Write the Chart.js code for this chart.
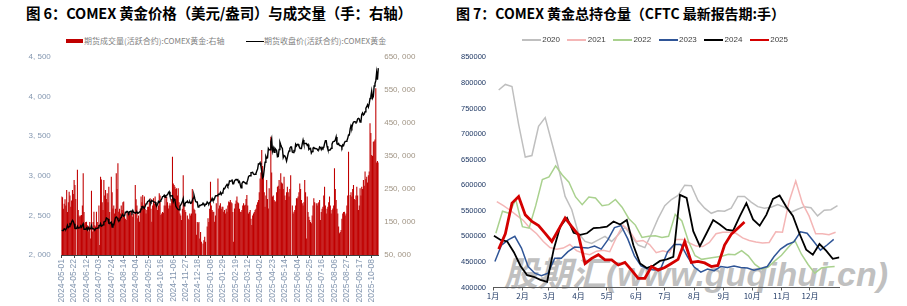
<!DOCTYPE html>
<html>
<head>
<meta charset="utf-8">
<script src="https://cdn.jsdelivr.net/npm/chart.js@4.4.1/dist/chart.umd.min.js"></script>
<style>
html, body { margin: 0; padding: 0; background: #fff; }
#wrap { position: relative; width: 907px; height: 306px; overflow: hidden; font-family: "Liberation Sans", Arial, sans-serif; }
.title { position: absolute; top: 3px; font-family: "Noto Sans CJK SC", sans-serif; font-weight: 700; line-height: 20px; color: #000; white-space: nowrap; }
canvas { position: absolute; top: 0; }
.lg { position: absolute; white-space: nowrap; }
.lgtxt { position: absolute; font-family: "Noto Sans CJK SC", sans-serif; font-size: 8px; line-height: 10px; color: #7f7f7f; white-space: nowrap; }
.rtxt { position: absolute; font-family: "Liberation Sans", Arial, sans-serif; font-size: 8px; line-height: 10px; color: #404040; }
#watermark { position: absolute; left: 504px; top: 256px; font-family: "Liberation Sans", "Noto Sans CJK SC", sans-serif; font-weight: 700; font-style: italic; font-size: 34px; line-height: 36px; color: #c0c0c0; white-space: nowrap; }
</style>
</head>
<body>
<div id="wrap">
  <div class="title" id="title-left" style="left:26px;font-size:14.5px">图 6：COMEX 黄金价格（美元/盎司）与成交量（手：右轴）</div>
  <div class="title" id="title-right" style="left:456px;font-size:14px">图 7：COMEX 黄金总持仓量（CFTC 最新报告期:手）</div>

  <div class="lg" style="left:66px;top:39px;width:17px;height:4px;background:#c00000"></div>
  <div class="lgtxt" style="left:84px;top:36px">期货成交量(活跃合约):COMEX黄金:右轴</div>
  <div class="lg" style="left:246px;top:40.5px;width:17.5px;height:1.5px;background:#000"></div>
  <div class="lgtxt" style="left:264px;top:36px">期货收盘价(活跃合约):COMEX黄金</div>

  <div id="watermark">股期汇(www.guqihui.cn)</div>

  <canvas id="left-chart" width="450" height="306" style="left:0"></canvas>
  <canvas id="right-chart" width="457" height="306" style="left:450px"></canvas>
  <div id="legend-right"></div>
</div>

<script>
// ---- 图6 data: COMEX gold daily close and volume, one row per 15 trading days ----
const firstTradeDay = '2024-05-01';

const closePrice = [
  2311, 2309, 2308, 2331, 2324, 2322, 2340, 2375, 2347, 2358, 2393, 2385, 2417, 2438, 2425,
  2393, 2337, 2335, 2335, 2362, 2340, 2343, 2345, 2368, 2350, 2375, 2394, 2325, 2327, 2325,
  2341, 2318, 2349, 2330, 2330, 2330, 2369, 2331, 2331, 2330, 2313, 2336, 2336, 2338, 2342,
  2369, 2369, 2397, 2363, 2369, 2380, 2416, 2421, 2429, 2467, 2459, 2455, 2400, 2396, 2409,
  2415, 2353, 2386, 2381, 2426, 2473, 2481, 2469, 2444, 2431, 2431, 2467, 2472, 2505, 2507,
  2491, 2494, 2540, 2540, 2552, 2548, 2515, 2546, 2552, 2555, 2536, 2562, 2536, 2536, 2526,
  2536, 2542, 2525, 2531, 2544, 2543, 2580, 2610, 2612, 2599, 2588, 2614, 2646, 2652, 2675,
  2681, 2694, 2668, 2660, 2690, 2680, 2677, 2667, 2666, 2636, 2623, 2641, 2676, 2665, 2680,
  2692, 2707, 2737, 2741, 2756, 2729, 2749, 2755, 2760, 2786, 2800, 2749, 2749, 2746, 2750,
  2676, 2706, 2694, 2618, 2598, 2586, 2573, 2570, 2615, 2632, 2652, 2674, 2712, 2620, 2641,
  2664, 2664, 2681, 2661, 2663, 2674, 2653, 2658, 2689, 2718, 2756, 2713, 2675, 2669, 2669,
  2605, 2610, 2628, 2625, 2635, 2635, 2654, 2637, 2620, 2641, 2641, 2669, 2655, 2645, 2664,
  2672, 2690, 2715, 2689, 2692, 2717, 2746, 2748, 2748, 2759, 2770, 2765, 2791, 2763, 2783,
  2790, 2840, 2835, 2857, 2877, 2892, 2869, 2887, 2935, 2932, 2936, 2954, 2900, 2900, 2935,
  2947, 2955, 2949, 2953, 2918, 2929, 2887, 2848, 2900, 2922, 2926, 2916, 2910, 2899, 2917,
  2945, 2990, 3001, 3000, 3041, 3042, 3045, 3022, 3016, 3020, 3030, 3060, 3084, 3150, 3148,
  3166, 3122, 3056, 2973, 2990, 3081, 3172, 3245, 3221, 3228, 3346, 3328, 3328, 3430, 3470,
  3310, 3349, 3298, 3347, 3333, 3319, 3240, 3243, 3333, 3422, 3391, 3364, 3344, 3230, 3256,
  3249, 3226, 3187, 3233, 3283, 3314, 3345, 3365, 3365, 3300, 3295, 3318, 3315, 3397, 3377,
  3397, 3399, 3375, 3355, 3343, 3344, 3402, 3452, 3404, 3407, 3408, 3408, 3385, 3395, 3333,
  3342, 3348, 3287, 3307, 3350, 3358, 3345, 3345, 3342, 3338, 3324, 3327, 3365, 3359, 3332,
  3359, 3345, 3359, 3406, 3444, 3444, 3373, 3335, 3319, 3326, 3327, 3348, 3399, 3426, 3434,
  3435, 3453, 3491, 3404, 3398, 3408, 3382, 3382, 3379, 3357, 3391, 3380, 3418, 3433, 3435,
  3441, 3473, 3516, 3516, 3591, 3634, 3608, 3653, 3678, 3682, 3682, 3673, 3680, 3718, 3725,
  3717, 3678, 3683, 3775, 3795, 3768, 3780, 3809, 3855, 3873, 3897, 3868, 3908, 3976, 4005,
  4070, 3978, 4000, 4133, 4163, 4201, 4304, 4213, 4359
];

const volume = [
  227000, 225000, 190000, 205000, 219000, 200000, 247000, 180000, 210000, 242000, 230000, 196000, 215000, 247000, 235000,
  277000, 262000, 220000, 30000, 308000, 186000, 170000, 166000, 170000, 171000, 200000, 298000, 180000, 146000, 150000,
  151000, 140000, 121000, 136000, 150000, 100000, 245000, 121000, 150000, 181000, 140000, 136000, 181000, 150000, 136000,
  200000, 80000, 287000, 279000, 210000, 186000, 277000, 230000, 247000, 220000, 237000, 210000, 257000, 180000, 146000,
  287000, 240000, 191000, 200000, 176000, 190000, 298000, 250000, 328000, 181000, 190000, 176000, 200000, 186000, 210000,
  212000, 166000, 160000, 156000, 180000, 176000, 170000, 176000, 180000, 170000, 176000, 166000, 176000, 30000, 262000,
  219000, 200000, 161000, 170000, 151000, 190000, 227000, 210000, 232000, 200000, 227000, 190000, 176000, 186000, 196000,
  196000, 210000, 222000, 190000, 151000, 200000, 222000, 205000, 227000, 210000, 202000, 186000, 200000, 237000, 230000,
  171000, 176000, 180000, 178000, 200000, 232000, 200000, 227000, 210000, 191000, 200000, 207000, 200000, 220000, 348000,
  267000, 262000, 257000, 250000, 252000, 230000, 252000, 210000, 176000, 170000, 156000, 190000, 292000, 200000, 186000,
  180000, 40000, 170000, 160000, 156000, 176000, 170000, 176000, 250000, 227000, 190000, 186000, 176000, 111000, 150000,
  146000, 150000, 100000, 120000, 90000, 30000, 85000, 95000, 105000, 90000, 30000, 136000, 161000, 150000, 190000,
  272000, 200000, 186000, 180000, 181000, 151000, 170000, 207000, 30000, 282000, 191000, 200000, 207000, 190000, 196000,
  196000, 181000, 186000, 176000, 190000, 181000, 200000, 212000, 210000, 217000, 210000, 207000, 180000, 90000, 191000,
  205000, 215000, 227000, 210000, 207000, 190000, 181000, 180000, 186000, 200000, 207000, 200000, 202000, 220000, 232000,
  200000, 176000, 180000, 186000, 160000, 141000, 170000, 176000, 180000, 186000, 190000, 202000, 210000, 217000, 240000,
  282000, 300000, 368000, 320000, 287000, 240000, 196000, 230000, 277000, 220000, 191000, 252000, 30000, 408000, 300000,
  227000, 230000, 217000, 212000, 212000, 240000, 257000, 260000, 277000, 250000, 298000, 270000, 267000, 250000, 287000,
  230000, 217000, 240000, 257000, 240000, 227000, 250000, 292000, 30000, 200000, 176000, 181000, 186000, 200000, 222000,
  222000, 227000, 240000, 267000, 250000, 217000, 207000, 200000, 210000, 277000, 240000, 100000, 227000, 180000, 166000,
  156000, 150000, 146000, 170000, 200000, 222000, 210000, 30000, 207000, 200000, 207000, 210000, 217000, 156000, 180000,
  190000, 196000, 230000, 257000, 200000, 176000, 190000, 196000, 210000, 227000, 200000, 176000, 186000, 191000, 200000,
  313000, 250000, 217000, 190000, 176000, 136000, 116000, 120000, 126000, 160000, 176000, 180000, 181000, 170000, 176000,
  200000, 230000, 363000, 30000, 232000, 240000, 227000, 250000, 262000, 220000, 217000, 230000, 257000, 230000, 186000,
  200000, 252000, 230000, 257000, 250000, 277000, 260000, 303000, 280000, 287000, 270000, 292000, 303000, 449000, 420000,
  353000, 350000, 393000, 395000, 400000, 555000, 330000, 335000, 330000
];

// ---- 图7 data: CFTC total open interest, weekly reports ----
const years = ['2020', '2021', '2022', '2023', '2024', '2025'];
// day of year (0 = Jan 1) of the first weekly report of each year
const firstReportDay = [6, 4, 3, 2, 1, 6];

const oi2020 = [786000, 797000, 793000, 719000, 655000, 658000, 715000, 732000, 683000, 634000, 578000, 552000, 506000,
  490000, 486000, 493000, 500000, 490000, 503000, 518000, 500000, 483000, 478000, 505000, 535000, 560000, 572000,
  580000, 600000, 599000, 570000, 555000, 545000, 550000, 549000, 555000, 578000, 578000, 567000, 558000, 555000,
  557000, 562000, 557000, 547000, 553000, 558000, 556000, 540000, 551000, 552000, 560000];
const oi2021 = [568000, 560000, 551000, 541000, 531000, 516000, 505000, 490000, 478000, 475000, 477000, 484000, 472000,
  467000, 464000, 471000, 473000, 470000, 498000, 522000, 510000, 490000, 492000, 484000, 468000, 472000, 468000,
  494000, 494000, 487000, 481000, 480000, 488000, 505000, 508000, 508000, 506000, 497000, 492000, 489000, 487000,
  488000, 509000, 508000, 568000, 608000, 565000, 540000, 505000, 505000, 503000, 508000];
const oi2022 = [506000, 549000, 545000, 572000, 519000, 516000, 560000, 611000, 616000, 638000, 620000, 606000, 577000,
  562000, 577000, 575000, 560000, 562000, 572000, 557000, 535000, 522000, 498000, 500000, 501000, 498000, 500000,
  543000, 530000, 490000, 462000, 455000, 457000, 459000, 461000, 465000, 464000, 472000, 462000, 445000, 436000,
  440000, 452000, 463000, 478000, 492000, 465000, 445000, 428000, 438000, 440000, 441000];
const oi2023 = [451000, 483000, 493000, 500000, 477000, 441000, 428000, 423000, 428000, 457000, 457000, 470000, 479000,
  478000, 477000, 481000, 475000, 493000, 517000, 521000, 495000, 462000, 442000, 436000, 434000, 438000, 470000,
  484000, 484000, 460000, 440000, 430000, 436000, 433000, 441000, 439000, 442000, 439000, 438000, 434000, 437000,
  441000, 460000, 475000, 484000, 489000, 509000, 506000, 490000, 473000, 483000, 494000];
const oi2024 = [501000, 493000, 490000, 469000, 442000, 424000, 421000, 415000, 411000, 475000, 520000, 536000, 507000,
  503000, 506000, 516000, 517000, 519000, 529000, 523000, 532000, 482000, 447000, 438000, 443000, 452000, 455000,
  460000, 581000, 575000, 510000, 481000, 506000, 532000, 523000, 513000, 511000, 539000, 565000, 533000, 521000,
  542000, 573000, 580000, 558000, 540000, 505000, 474000, 464000, 485000, 472000, 456000, 459000];
const oi2025 = [475000, 505000, 565000, 578000, 542000, 529000, 521000, 506000, 490000, 513000, 536000, 519000, 503000,
  447000, 457000, 464000, 454000, 454000, 444000, 449000, 434000, 418000, 418000, 441000, 434000, 439000, 447000,
  455000, 490000, 449000, 451000, 448000, 441000, 443000, 483000, 504000, 516000, 528000];
const openInterest = [oi2020, oi2021, oi2022, oi2023, oi2024, oi2025];

const monthStartDay = [0, 31, 59, 90, 120, 151, 181, 212, 243, 273, 304, 334];
const monthLabels = ['1月', '2月', '3月', '4月', '5月', '6月', '7月', '8月', '9月', '10月', '11月', '12月'];

// styles
const yearColors = ['#bfbfbf', '#f4b6b6', '#a9d18e', '#2f5597', '#000000', '#d40000'];
const yearWidths = [1.5, 1.5, 1.5, 1.5, 1.8, 2.8];

if (volume.length !== closePrice.length) {
  throw new Error('length mismatch ' + volume.length + ' vs ' + closePrice.length);
}

// trading-day categories (weekdays from the first date)
const tradeDates = [];
for (let d = new Date(firstTradeDay + 'T00:00:00Z'); tradeDates.length < closePrice.length; d.setUTCDate(d.getUTCDate() + 1)) {
  const wd = d.getUTCDay();
  if (wd !== 0 && wd !== 6) tradeDates.push(d.toISOString().slice(0, 10));
}

function commaFmt(v) {
  return Number(v).toLocaleString('en-US').replace(/,/g, ', ');
}

// stretch a title to the width it has in the reference
function fitWidth(id, target) {
  const el = document.getElementById(id);
  el.style.letterSpacing = '0px';
  const w = el.getBoundingClientRect().width;
  el.style.letterSpacing = ((target - w) / el.textContent.length) + 'px';
}
function fitTitles() {
  fitWidth('title-left', 386);
  fitWidth('title-right', 329);
}
fitTitles();
if (document.fonts) document.fonts.ready.then(fitTitles);

// ---- left chart ----
new Chart(document.getElementById('left-chart').getContext('2d'), {
  type: 'bar',
  data: {
    labels: tradeDates,
    datasets: [
      {
        type: 'line',
        label: '期货收盘价(活跃合约):COMEX黄金',
        data: closePrice,
        yAxisID: 'yL',
        borderColor: '#000000',
        borderWidth: 1.4,
        pointRadius: 0,
        tension: 0,
        order: 0
      },
      {
        type: 'bar',
        label: '期货成交量(活跃合约):COMEX黄金:右轴',
        data: volume,
        yAxisID: 'yR',
        backgroundColor: '#c00000',
        borderWidth: 0,
        barPercentage: 1.3,
        categoryPercentage: 1,
        order: 1
      }
    ]
  },
  options: {
    responsive: false,
    animation: false,
    devicePixelRatio: 1,
    events: [],
    layout: { padding: { left: 0, right: 0, top: 57, bottom: 0 } },
    plugins: { legend: { display: false }, tooltip: { enabled: false } },
    scales: {
      x: {
        offset: true,
        grid: { display: true, drawOnChartArea: false, offset: false, tickLength: 3, color: '#404040' },
        border: { display: true, color: '#404040' },
        ticks: {
          autoSkip: false, minRotation: 90, maxRotation: 90, padding: 1,
          font: { family: 'Liberation Sans', size: 8.5 }, color: '#8497b0'
        },
        afterBuildTicks: s => { s.ticks = s.ticks.filter((t, i) => i % 15 === 0); },
        afterFit: s => { s.height = 51; }
      },
      yL: {
        position: 'left',
        min: 2000, max: 4500,
        grid: { display: false, drawTicks: false },
        border: { display: false },
        ticks: {
          stepSize: 500, padding: 10.5, callback: commaFmt,
          font: { family: 'Liberation Sans', size: 8 }, color: '#8497b0'
        },
        afterFit: s => { s.width = 61.3; }
      },
      yR: {
        position: 'right',
        min: 50000, max: 650000,
        grid: { display: false, drawTicks: false },
        border: { display: false },
        ticks: {
          stepSize: 100000, padding: 5.5, callback: commaFmt,
          font: { family: 'Liberation Sans', size: 8 }, color: '#a09484'
        },
        afterFit: s => { s.width = 71.3; }
      }
    }
  }
});

// ---- right chart ----
new Chart(document.getElementById('right-chart').getContext('2d'), {
  type: 'line',
  data: {
    datasets: years.map((y, i) => ({
      label: y,
      data: openInterest[i].map((v, k) => ({ x: firstReportDay[i] + 7 * k, y: v })),
      borderColor: yearColors[i],
      borderWidth: yearWidths[i],
      pointRadius: 0,
      tension: 0,
      fill: false,
      order: years.length - i
    }))
  },
  options: {
    responsive: false,
    animation: false,
    devicePixelRatio: 1,
    events: [],
    layout: { padding: { left: 0, right: 67.6, top: 57.3, bottom: 0 } },
    plugins: { legend: { display: false }, tooltip: { enabled: false } },
    scales: {
      x: {
        type: 'linear',
        min: 0, max: 365,
        grid: { display: true, drawOnChartArea: false, tickLength: 3, color: '#595959' },
        border: { display: true, color: '#595959' },
        ticks: {
          autoSkip: false, maxRotation: 0, padding: 1,
          callback: (v, i) => monthLabels[i],
          font: { family: 'Noto Sans CJK SC', size: 8 }, color: '#1f3864'
        },
        afterBuildTicks: s => { s.ticks = monthStartDay.map(v => ({ value: v })); },
        afterFit: s => { s.height = 18.5; }
      },
      y: {
        min: 400000, max: 850000,
        grid: { display: false, drawTicks: false },
        border: { display: false },
        ticks: {
          stepSize: 50000, padding: 7,
          callback: v => String(v),
          font: { family: 'Liberation Sans', size: 7.5 }, color: '#1f3864'
        },
        afterFit: s => { s.width = 43; }
      }
    }
  }
});

// right legend
const legendBox = document.getElementById('legend-right');
years.forEach((y, i) => {
  const left = 521.7 + 45.6 * i;
  const sw = document.createElement('div');
  sw.className = 'lg';
  sw.style.left = left + 'px';
  sw.style.top = (40 - yearWidths[i] / 2) + 'px';
  sw.style.width = '19px';
  sw.style.height = yearWidths[i] + 'px';
  sw.style.background = yearColors[i];
  legendBox.appendChild(sw);
  const tx = document.createElement('div');
  tx.className = 'rtxt';
  tx.style.left = (left + 20.5) + 'px';
  tx.style.top = '35px';
  tx.textContent = y;
  legendBox.appendChild(tx);
});
</script>
</body>
</html>
